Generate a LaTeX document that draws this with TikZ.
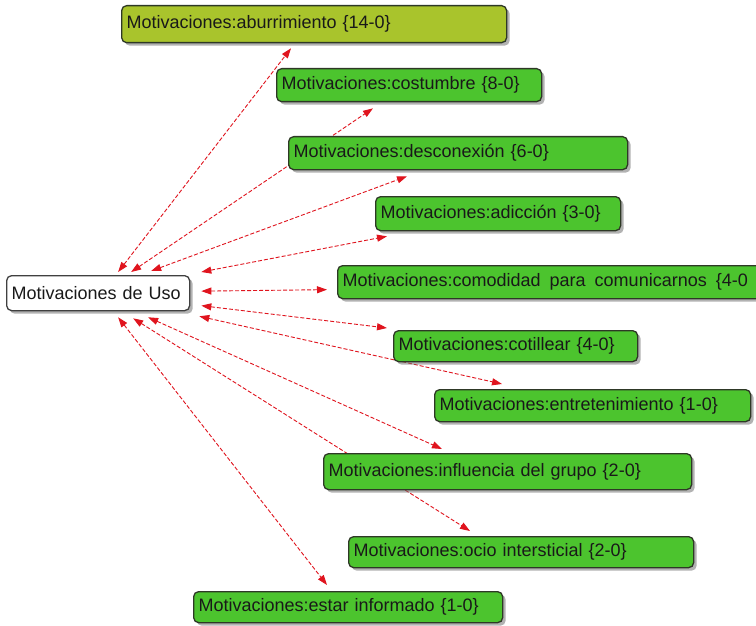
\documentclass[tikz,border=0pt]{standalone}
\usepackage{fontspec}
\setmainfont{Liberation Sans}
\usetikzlibrary{arrows.meta,shadows,calc,backgrounds}
\definecolor{olivebox}{HTML}{A9C42C}
\definecolor{greenbox}{HTML}{4CC42E}
\definecolor{edgedark}{HTML}{2E3826}
\definecolor{arrowred}{HTML}{E0141E}
\tikzset{
  mbox/.style={draw=edgedark, line width=1.3pt, rounded corners=5pt, anchor=north west,
    inner xsep=5pt, inner ysep=0pt, align=left, font=\fontsize{18}{20}\selectfont, text=black!90,
    drop shadow={shadow xshift=3pt, shadow yshift=-3pt, fill=black!55, opacity=0.55}},
  greenb/.style={mbox, fill=greenbox},
  oliveb/.style={mbox, fill=olivebox},
  whiteb/.style={mbox, fill=white, draw=black!75},
  link/.style={draw=arrowred, line width=0.9pt, dash pattern=on 4pt off 2pt,
    {Triangle[length=10pt,width=7pt]}-{Triangle[length=10pt,width=7pt]}}
}
\begin{document}
\begin{tikzpicture}[x=1pt,y=-1pt]
\useasboundingbox (0,0) rectangle (756,626);
\node[whiteb, minimum width=183pt, minimum height=35pt, text width=173pt] (cen) at (6,275) {Motivaciones de Uso};
\node[oliveb, minimum width=385pt, minimum height=37pt, text width=375pt] (b1) at (121,5) {Motivaciones:aburrimiento \{14-0\}};
\node[greenb, minimum width=265pt, minimum height=33pt, text width=255pt] (b2) at (276,68) {Motivaciones:costumbre \{8-0\}};
\node[greenb, minimum width=339pt, minimum height=33pt, text width=329pt] (b3) at (288,136) {Motivaciones:desconexión \{6-0\}};
\node[greenb, minimum width=245pt, minimum height=34pt, text width=235pt] (b4) at (375,196) {Motivaciones:adicción \{3-0\}};
\node[greenb, minimum width=430pt, minimum height=33pt, text width=420pt] (b5) at (337,265) {Motivaciones:comodidad\hspace{9pt}para\hspace{9pt}comunicarnos\hspace{9pt}\{4-0};
\node[greenb, minimum width=244pt, minimum height=31pt, text width=234pt] (b6) at (393,330) {Motivaciones:cotillear \{4-0\}};
\node[greenb, minimum width=316pt, minimum height=32pt, text width=306pt] (b7) at (434,389) {Motivaciones:entretenimiento \{1-0\}};
\node[greenb, minimum width=368pt, minimum height=36pt, text width=358pt] (b8) at (323,453) {Motivaciones:influencia del grupo \{2-0\}};
\node[greenb, minimum width=345pt, minimum height=31pt, text width=335pt] (b9) at (348,536) {Motivaciones:ocio intersticial \{2-0\}};
\node[greenb, minimum width=309pt, minimum height=31pt, text width=299pt] (b10) at (193,591) {Motivaciones:estar informado \{1-0\}};
\begin{scope}[on background layer]
\fill[white] (0,0) rectangle (756,626);
\draw[link] ($(cen.north)+(20,-3)$) -- ($(b1.south west)+(170,5)$);
\draw[link] ($(cen.north)+(33,-3)$) -- ($(b2.south west)+(97,6)$);
\draw[link] ($(cen.north)+(53,-4)$) -- ($(b3.south west)+(119,6)$);
\draw[link] ($(cen.north east)+(11,-3)$) -- ($(b4.south west)+(12,5)$);
\draw[link] ($(cen.east)+(11,-2)$) -- ($(b5.west)+(-10,7.5)$);
\draw[link] ($(cen.east)+(11,12.5)$) -- ($(b6.north west)+(-6,-2)$);
\draw[link] ($(cen.south east)+(9,5)$) -- ($(b7.north west)+(68,-5)$);
\draw[link] ($(cen.south)+(50,6)$) -- ($(b8.north west)+(119,-4)$);
\draw[link] ($(cen.south)+(35,7)$) -- ($(b9.north west)+(122,-5)$);
\draw[link] ($(cen.south)+(20,6)$) -- ($(b10.north west)+(134,-6)$);
\end{scope}
\end{tikzpicture}
\end{document}
